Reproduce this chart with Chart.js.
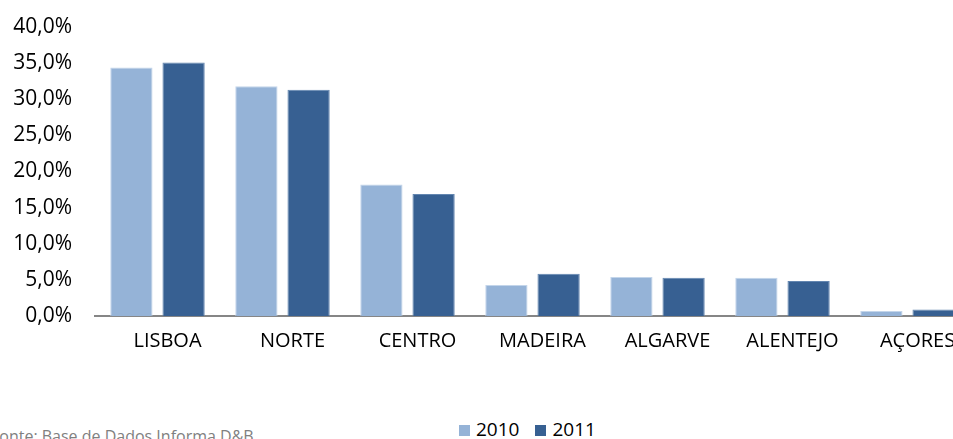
<!DOCTYPE html>
<html lang="pt">
<head>
    <meta charset="UTF-8">
    <title>Distribuição por região</title>
    <script src="https://cdn.jsdelivr.net/npm/chart.js"></script>
    <style>
        body {
            margin: 0;
            background-color: white;
            overflow: hidden;
        }
        #wrap {
            position: relative;
            width: 970px;
            height: 439px;
        }
        #chart-box {
            position: absolute;
            left: 0;
            top: 0;
            width: 970px;
            height: 370px;
        }
        #legend {
            position: absolute;
            left: 459px;
            top: 416px;
            font-family: "Open Sans", sans-serif;
            font-size: 19px;
            color: #000;
            white-space: nowrap;
        }
        #legend span.box {
            display: inline-block;
            width: 11px;
            height: 11px;
            margin-right: 6px;
        }
        #legend span.item {
            margin-right: 16px;
        }
        #fonte {
            position: absolute;
            left: -9px;
            top: 425px;
            font-family: "Open Sans", sans-serif;
            font-size: 16px;
            color: #808080;
            white-space: nowrap;
        }
    </style>
</head>
<body>
<div id="wrap">
    <div id="chart-box"><canvas id="regioes"></canvas></div>
    <div id="legend"></div>
    <div id="fonte">Fonte: Base de Dados Informa D&amp;B</div>
</div>
<script>
    // dados
    const regioes = ['LISBOA', 'NORTE', 'CENTRO', 'MADEIRA', 'ALGARVE', 'ALENTEJO', 'AÇORES'];
    const valores2010 = [34.4, 31.8, 18.2, 4.3, 5.4, 5.3, 0.7];
    const valores2011 = [35.1, 31.3, 16.9, 5.85, 5.3, 4.85, 0.9];
    const anos = ['2010', '2011'];
    const cores = ['#95B3D7', '#376092'];

    const ctx = document.getElementById('regioes').getContext('2d');
    const grafico = new Chart(ctx, {
        type: 'bar',
        data: {
            labels: regioes,
            datasets: [
                {
                    label: anos[0],
                    data: valores2010,
                    backgroundColor: cores[0],
                    borderColor: '#c3d5ea',
                    borderWidth: 1
                },
                {
                    label: anos[1],
                    data: valores2011,
                    backgroundColor: cores[1],
                    borderColor: '#6386b0',
                    borderWidth: 1
                }
            ]
        },
        options: {
            responsive: true,
            maintainAspectRatio: false,
            animation: false,
            layout: {
                padding: { left: 12, top: 27, right: 0, bottom: 0 }
            },
            datasets: {
                bar: {
                    categoryPercentage: 0.835,
                    barPercentage: 0.81
                }
            },
            scales: {
                y: {
                    min: 0,
                    max: 40,
                    grid: { display: false, drawTicks: false },
                    border: { display: false },
                    afterFit: function(scale) {
                        scale.width = 83;
                        scale.paddingTop = 0;
                        scale.paddingBottom = 0;
                    },
                    ticks: {
                        stepSize: 5,
                        padding: 23,
                        color: '#000',
                        font: { family: 'Open Sans', size: 21 },
                        callback: function(value) {
                            return value.toFixed(1).replace('.', ',') + '%';
                        }
                    }
                },
                x: {
                    grid: { display: false, drawTicks: false },
                    border: { display: true, color: '#868686', width: 2 },
                    afterFit: function(scale) { scale.height = 54; },
                    ticks: {
                        padding: 13,
                        labelOffset: 10,
                        color: '#000',
                        maxRotation: 0,
                        autoSkip: false,
                        font: { family: 'Open Sans', size: 20 }
                    }
                }
            },
            plugins: {
                legend: { display: false },
                tooltip: { enabled: false }
            }
        }
    });

    // legenda
    const legenda = document.getElementById('legend');
    anos.forEach(function(ano, i) {
        const item = document.createElement('span');
        item.className = 'item';
        item.innerHTML = '<span class="box" style="background:' + cores[i] + '"></span>' + ano;
        legenda.appendChild(item);
    });
</script>
</body>
</html>
